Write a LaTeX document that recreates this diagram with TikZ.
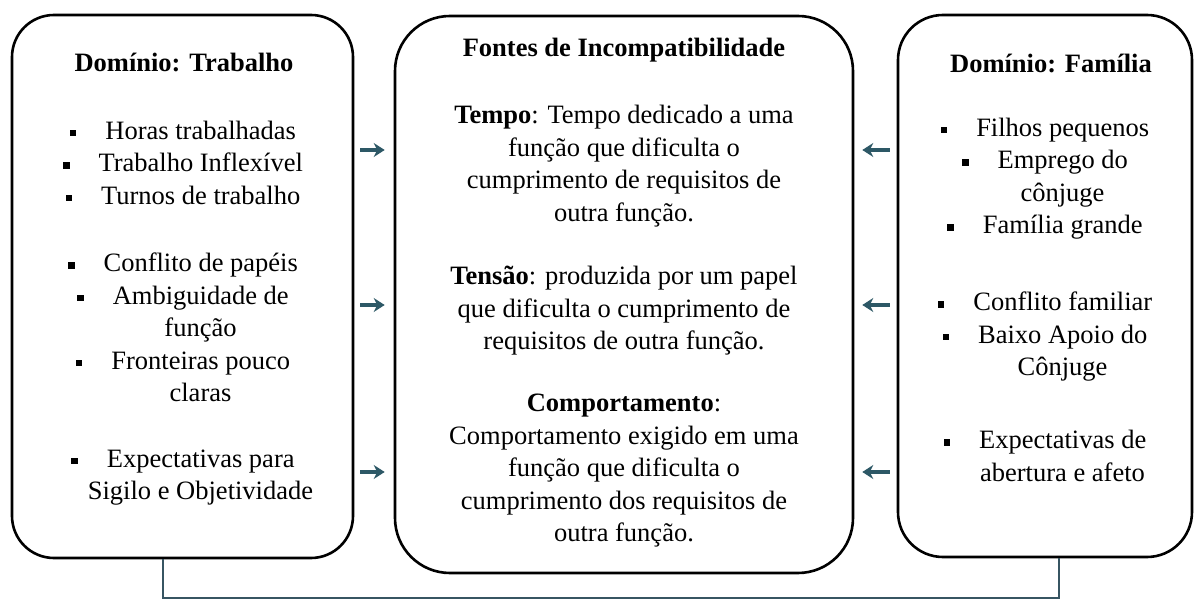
\documentclass[tikz,border=0pt]{standalone}
\usepackage{fontspec}
\setmainfont{Liberation Serif}
\usetikzlibrary{arrows.meta}
\definecolor{arrowc}{RGB}{45,88,102}
\definecolor{connc}{RGB}{55,85,98}
\newcommand{\bul}{\rule[3pt]{6.5pt}{6.5pt}\hspace{29pt}}
\newcommand{\cont}{\hspace*{35pt}}
\begin{document}
\begin{tikzpicture}[x=1pt,y=-1pt,
  box/.style={draw, line width=2.6pt, rectangle, inner sep=0pt},
  txt/.style={align=center, inner sep=0pt, font=\fontsize{26.5}{32.5}\selectfont},
  ttl/.style={txt, font=\fontsize{26.5}{32.5}\selectfont\bfseries},
  arr/.style={draw=arrowc, line width=3.6pt, -{Stealth[length=11pt,width=14pt]}},
  conn/.style={draw=connc, line width=2.2pt}]
\useasboundingbox (0,0) rectangle (1195,601);
% boxes
\node[box, rounded corners=42pt, minimum width=341pt, minimum height=543pt] (L) at (182.5,286.5) {};
\node[box, rounded corners=55pt, minimum width=458pt, minimum height=557pt] (C) at (624,294.5) {};
\node[box, rounded corners=45pt, minimum width=294pt, minimum height=542pt] (R) at (1045,286) {};
% left texts
\node[ttl] (lt) at (184,62) {Domínio: Trabalho};
\node[txt] (l1) at (183,162.5) {\bul Horas trabalhadas\\\bul Trabalho Inflexível\\\bul Turnos de trabalho};
\node[txt] (l2) at (183,327.5) {\bul Conflito de papéis\\\bul Ambiguidade de\\\cont função\\\bul Fronteiras pouco\\\cont claras};
\node[txt] (l3) at (183,477.5) {\bul Expectativas para\\\cont Sigilo e Objetividade};
% centre texts
\node[ttl] (ct) at (624,50) {Fontes de Incompatibilidade};
\node[txt] (c1) at (624,166) {\textbf{Tempo}: Tempo dedicado a uma\\função que dificulta o\\cumprimento de requisitos de\\outra função.};
\node[txt] (c2) at (624,311) {\textbf{Tensão}: produzida por um papel\\que dificulta o cumprimento de\\requisitos de outra função.};
\node[txt] (c3) at (624,471) {\textbf{Comportamento}:\\Comportamento exigido em uma\\função que dificulta o\\cumprimento dos requisitos de\\outra função.};
% right texts
\node[ttl] (rt) at (1051,63) {Domínio: Família};
\node[txt] (r1) at (1045,178.5) {\bul Filhos pequenos\\\bul Emprego do\\\cont cônjuge\\\bul Família grande};
\node[txt] (r2) at (1045,337) {\bul Conflito familiar\\\bul Baixo Apoio do\\\cont Cônjuge};
\node[txt] (r3) at (1045,456) {\bul Expectativas de\\\cont abertura e afeto};
% arrows
\coordinate (a1) at (0,150);
\coordinate (a2) at (0,305);
\coordinate (a3) at (0,472);
\foreach \a in {a1,a2,a3}{
  \draw[arr, shorten <=6pt, shorten >=9pt] (L.east |- \a) -- (C.west |- \a);
  \draw[arr, shorten <=7pt, shorten >=8pt] (R.west |- \a) -- (C.east |- \a);
}
% bottom connector
\coordinate (b1) at (163,598);
\coordinate (b2) at (1059,598);
\draw[conn] (L.south -| b1) -- (b1) -- (b2) -- (R.south -| b2);
\end{tikzpicture}
\end{document}
